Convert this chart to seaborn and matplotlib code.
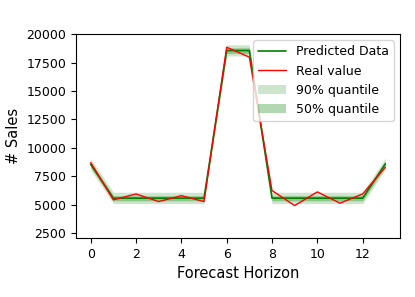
import numpy as np
import pandas as pd
import matplotlib
matplotlib.use("Agg")
import matplotlib.pyplot as plt
import seaborn as sns

# values
horizon = list(range(14))
predicted = [8550, 5580, 5580, 5580, 5580, 5580, 18560, 18560, 5580, 5580, 5580, 5580, 5580, 8600]
real = [8710, 5430, 5950, 5280, 5800, 5280, 18850, 17980, 6250, 4930, 6130, 5140, 5950, 8300]
q90_low = [8050, 5100, 5100, 5100, 5100, 5100, 18080, 18080, 5100, 5100, 5100, 5100, 5100, 8100]
q90_high = [9050, 6100, 6100, 6100, 6100, 6100, 19060, 19060, 6100, 6100, 6100, 6100, 6100, 9100]
q50_low = [8300, 5350, 5350, 5350, 5350, 5350, 18300, 18300, 5350, 5350, 5350, 5350, 5350, 8350]
q50_high = [8800, 5800, 5800, 5800, 5800, 5800, 18800, 18800, 5800, 5800, 5800, 5800, 5800, 8850]

df = pd.DataFrame({"horizon": horizon, "predicted": predicted, "real": real})

sns.set_style("ticks", {"axes.edgecolor": "black", "text.color": "black",
                        "axes.labelcolor": "black", "xtick.color": "black",
                        "ytick.color": "black"})
plt.rcParams["font.family"] = ["DejaVu Sans"]

fig, ax = plt.subplots(figsize=(4.15, 2.97), dpi=100)

sns.lineplot(data=df, x="horizon", y="predicted", color="green", linewidth=1.2, label="Predicted Data", ax=ax)
sns.lineplot(data=df, x="horizon", y="real", color="red", linewidth=1.0, label="Real value", ax=ax)
ax.fill_between(horizon, q90_low, q90_high, color="green", alpha=0.2, linewidth=0, label="90% quantile")
ax.fill_between(horizon, q50_low, q50_high, color="green", alpha=0.3, linewidth=0, label="50% quantile")

ax.set_ylim(2060, 20000)
ax.set_xlabel("Forecast Horizon", fontsize=10.5)
ax.set_ylabel("# Sales", fontsize=10.5)
ax.tick_params(labelsize=9)
ax.legend(loc="upper right", fontsize=9, handlelength=2.2)

fig.subplots_adjust(left=0.183, right=0.964, top=0.885, bottom=0.198)
plt.savefig("out.png")
plt.close()
